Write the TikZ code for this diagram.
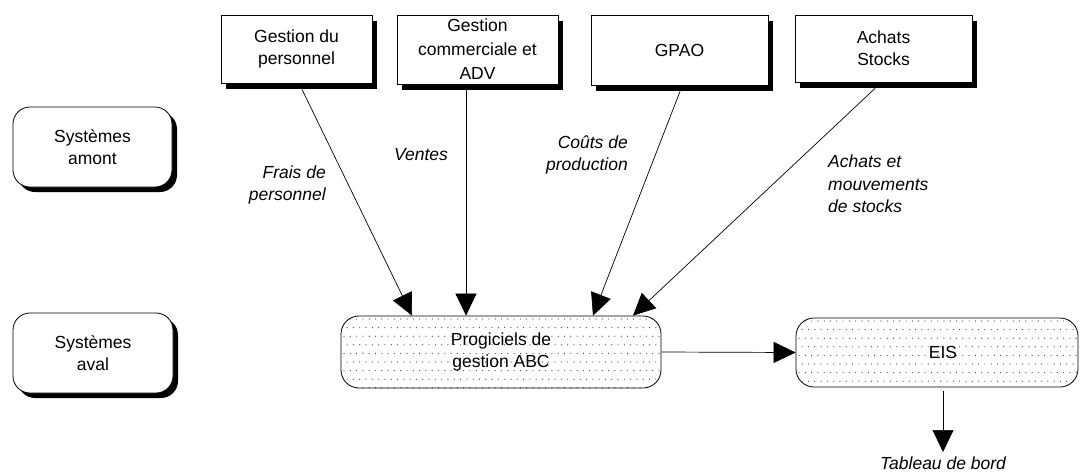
\documentclass[tikz,border=0pt]{standalone}
\usepackage{fontspec}
\setmainfont{Liberation Sans}
\usetikzlibrary{arrows.meta,shadows,backgrounds,calc}
\begin{document}
\begin{tikzpicture}[x=1pt,y=-1pt,
  every node/.style={font=\fontsize{17.5}{22}\selectfont},
  sysbox/.style={draw, line width=0.8pt, rounded corners=17pt, fill=white, align=center,
    minimum width=160pt, minimum height=80pt,
    drop shadow={shadow xshift=5pt, shadow yshift=-5pt, opacity=1, fill=black}},
  topbox/.style={draw, line width=0.8pt, fill=white, align=center, inner sep=0pt,
    drop shadow={shadow xshift=5pt, shadow yshift=-6pt, opacity=1, fill=black}},
  procbox/.style={draw, line width=0.8pt, rounded corners=18pt, align=center, inner sep=0pt},
  lab/.style={font=\fontsize{17.5}{22.5}\selectfont\itshape, inner sep=0pt},
  flow/.style={draw, line width=0.7pt, -{Triangle[length=22pt,width=21pt]}},
  dot/.style={fill=black!75}
]
\useasboundingbox (0,0) rectangle (1081,475);
\begin{scope}[on background layer]
  \fill[white] (0,0) rectangle (1081,475);
\end{scope}

% left category boxes
\node[sysbox, minimum width=159pt] (amont) at (92.5,147) {Systèmes\\amont};
\node[sysbox] (aval) at (93,353) {Systèmes\\aval};

% top source systems
\node[topbox, minimum width=151pt, minimum height=68pt] (gp) at (296.5,49) {Gestion du\\personnel};
\node[topbox, minimum width=161pt, minimum height=69pt, font=\fontsize{17.5}{24}\selectfont] (gc) at (477.5,49.5) {Gestion\\commerciale et\\ADV};
\node[topbox, minimum width=177pt, minimum height=70pt] (gpao) at (679.5,50) {GPAO};
\node[topbox, minimum width=177pt, minimum height=67pt] (ach) at (883.5,48.5) {Achats\\Stocks};

% downstream boxes
\node[procbox, minimum width=320pt, minimum height=72pt] (prog) at (501,352) {Progiciels de\\gestion ABC};
\node[procbox, minimum width=282pt, minimum height=69pt] (eis) at (937,352.5) {\hspace*{12pt}EIS};

% dotted fill
\begin{scope}[on background layer]
  \begin{scope}
    \clip[rounded corners=18pt] (prog.north west) rectangle (prog.south east);
    \foreach \j in {0,...,8}{\foreach \i in {0,...,51}{
      \fill[dot] ({341+3+\i*6.3+mod(\j,2)*3.15},{319+\j*8.6}) circle[radius=0.6pt];}}
  \end{scope}
  \begin{scope}
    \clip[rounded corners=18pt] (eis.north west) rectangle (eis.south east);
    \foreach \j in {0,...,8}{\foreach \i in {0,...,45}{
      \fill[dot] ({796+3+\i*6.3+mod(\j,2)*3.15},{321+\j*8.6}) circle[radius=0.6pt];}}
  \end{scope}
\end{scope}

% flow labels
\node[lab, align=right, anchor=east] (l1) at (326,185) {Frais de\\personnel};
\node[lab] (l2) at (421,155) {Ventes};
\node[lab, align=right, anchor=east] (l3) at (628,155) {Coûts de\\production};
\node[lab, align=left, anchor=west] (l4) at (828,184) {Achats et\\mouvements\\de stocks};
\node[lab, anchor=north, inner ysep=5pt] (tb) at (943,452) {Tableau de bord};

% connectors
\draw[flow] ($(gp.south)+(5.5,6)$) -- ([xshift=-89pt]prog.north);
\draw[flow] ($(gc.south)+(-11.5,6)$) -- ([xshift=-35pt]prog.north);
\draw[flow] ($(gpao.south)+(0.5,6)$) -- ([xshift=92pt]prog.north);
\draw[flow] ($(ach.south)+(-8.5,6)$) -- ([xshift=132pt]prog.north);
\draw[flow] (prog.east) -- (eis.west);
\draw[flow] ($(eis.south)+(6,4)$) -- (tb.north);
\end{tikzpicture}
\end{document}
